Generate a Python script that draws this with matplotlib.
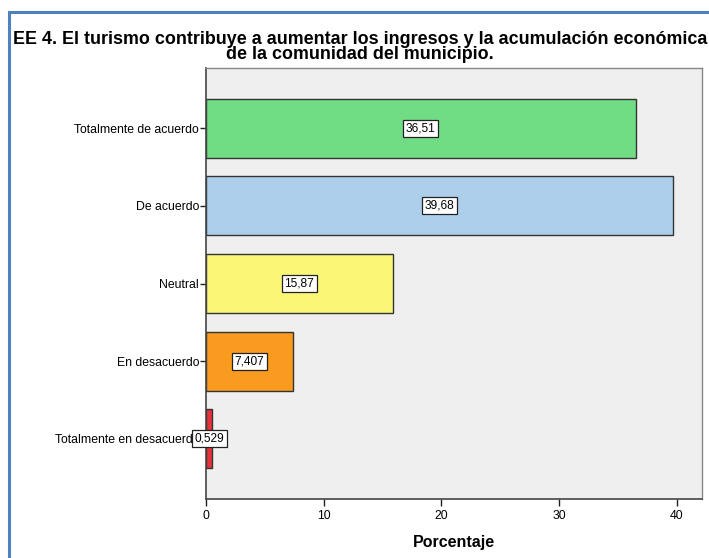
import matplotlib
matplotlib.use("Agg")
import matplotlib.pyplot as plt
from matplotlib.patches import Rectangle

plt.rcParams['font.family'] = ['Liberation Sans', 'DejaVu Sans']

categories = ["Totalmente de acuerdo", "De acuerdo", "Neutral",
              "En desacuerdo", "Totalmente en desacuerdo"]
values = [36.51, 39.68, 15.87, 7.407, 0.529]
value_labels = ["36,51", "39,68", "15,87", "7,407", "0,529"]
bar_colors = ["#70dd85", "#adcfec", "#fbf776", "#f99b1e", "#e8323b"]
x_ticks = [0, 10, 20, 30, 40]
title = ("EE 4. El turismo contribuye a aumentar los ingresos y la acumulación económica\n"
         "de la comunidad del municipio.")

W, H = 709, 558
fig = plt.figure(figsize=(W / 100, H / 100), dpi=100)

# blue frame around the chart (runs off the right and bottom edges)
fig.patches.append(Rectangle((9 / W, -0.05), 1.2, 1 - 12 / H + 0.05,
                             transform=fig.transFigure, fill=False,
                             edgecolor="#4f81bd", linewidth=2.2))

fig.text(360 / W, 1 - 31 / H, title, ha="center", va="top",
         multialignment="center", linespacing=0.82,
         fontsize=12.85, fontweight="bold")

ax = fig.add_axes([206 / W, 59 / H, 496 / W, 431 / H])
ax.set_facecolor("#efefef")

ypos = list(range(len(categories)))
ax.barh(ypos, values, height=0.76, color=bar_colors,
        edgecolor="#333333", linewidth=1.0, zorder=2)

for y, v, lab in zip(ypos, values, value_labels):
    ax.text(v / 2, y, lab, ha="center", va="center", fontsize=8.6, zorder=5,
            clip_on=False,
            bbox=dict(boxstyle="square,pad=0.22", facecolor="white",
                      edgecolor="#222222", linewidth=0.9))

ax.set_ylim(4.775, -0.775)
ax.set_xlim(0, 42.15)
ax.set_yticks(ypos)
ax.set_yticklabels(categories, fontsize=8.8)
ax.set_xticks(x_ticks)
ax.set_xticklabels([str(t) for t in x_ticks], fontsize=8.8)
ax.tick_params(axis="y", length=4, width=1, color="#222222", pad=1)
ax.tick_params(axis="x", length=5, width=1, color="#222222", pad=3)
ax.set_xlabel("Porcentaje", fontsize=11.5, fontweight="bold", labelpad=9)

for side in ["left", "bottom"]:
    ax.spines[side].set_color("#444444")
    ax.spines[side].set_linewidth(1.2)
for side in ["top", "right"]:
    ax.spines[side].set_color("#888888")
    ax.spines[side].set_linewidth(1.0)

fig.savefig("out.png", dpi=100)
